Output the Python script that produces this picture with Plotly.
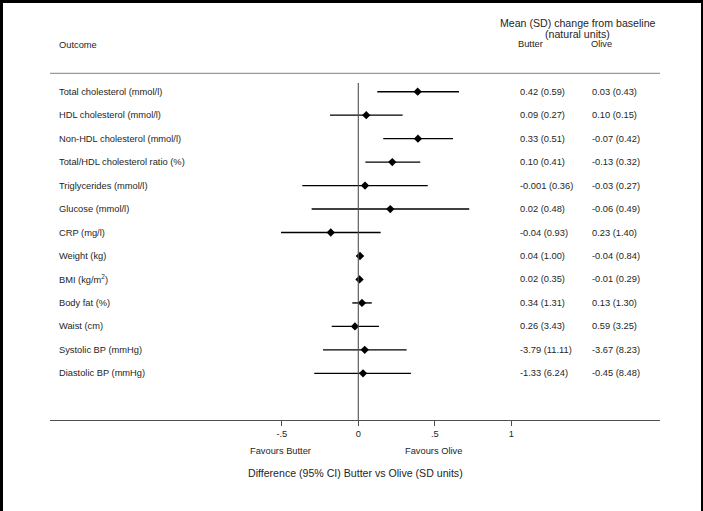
import plotly.graph_objects as go

# ---------------- data ----------------
outcomes = [
    "Total cholesterol (mmol/l)", "HDL cholesterol (mmol/l)", "Non-HDL cholesterol (mmol/l)",
    "Total/HDL cholesterol ratio (%)", "Triglycerides (mmol/l)", "Glucose (mmol/l)",
    "CRP (mg/l)", "Weight (kg)", "BMI (kg/m<sup>2</sup>)", "Body fat (%)", "Waist (cm)",
    "Systolic BP (mmHg)", "Diastolic BP (mmHg)",
]
diff_est = [0.388, 0.052, 0.390, 0.222, 0.044, 0.209, -0.180, 0.011, 0.008, 0.024, -0.022, 0.042, 0.031]
ci_low = [0.124, -0.185, 0.163, 0.046, -0.366, -0.305, -0.505, -0.012, -0.014, -0.039, -0.174, -0.231, -0.288]
ci_high = [0.658, 0.290, 0.619, 0.405, 0.454, 0.725, 0.146, 0.034, 0.030, 0.088, 0.135, 0.316, 0.344]
butter_txt = ["0.42 (0.59)", "0.09 (0.27)", "0.33 (0.51)", "0.10 (0.41)", "-0.001 (0.36)",
              "0.02 (0.48)", "-0.04 (0.93)", "0.04 (1.00)", "0.02 (0.35)", "0.34 (1.31)",
              "0.26 (3.43)", "-3.79 (11.11)", "-1.33 (6.24)"]
olive_txt = ["0.03 (0.43)", "0.10 (0.15)", "-0.07 (0.42)", "-0.13 (0.32)", "-0.03 (0.27)",
             "-0.06 (0.49)", "0.23 (1.40)", "-0.04 (0.84)", "-0.01 (0.29)", "0.13 (1.30)",
             "0.59 (3.25)", "-3.67 (8.23)", "-0.45 (8.48)"]
tick_vals = [-0.5, 0, 0.5, 1]
tick_text = ["-.5", "0", ".5", "1"]

# ---------------- layout helpers ----------------
W, H = 703, 511
FONT = "Liberation Sans, Arial, sans-serif"
TXT = "#1e1e1e"
rows = list(range(len(outcomes)))


def px(x):
    return x / W


def py(y):
    return 1 - y / H


fig = go.Figure()

# CI lines
for i in rows:
    fig.add_trace(go.Scatter(
        x=[ci_low[i], ci_high[i]], y=[i, i], mode="lines",
        line=dict(color="black", width=1.4), hoverinfo="skip", showlegend=False))

# point estimates
fig.add_trace(go.Scatter(
    x=diff_est, y=rows, mode="markers",
    marker=dict(symbol="diamond", size=6.4, color="black", line=dict(width=0)),
    showlegend=False))

ann = []
for i in rows:
    ann.append(dict(x=px(57), xref="paper", y=i, yref="y", text=outcomes[i],
                    xanchor="left", yanchor="middle", showarrow=False,
                    font=dict(family=FONT, size=9.3, color=TXT)))
    ann.append(dict(x=px(518), xref="paper", y=i, yref="y", text=butter_txt[i],
                    xanchor="left", yanchor="middle", showarrow=False,
                    font=dict(family=FONT, size=9.3, color=TXT)))
    ann.append(dict(x=px(590), xref="paper", y=i, yref="y", text=olive_txt[i],
                    xanchor="left", yanchor="middle", showarrow=False,
                    font=dict(family=FONT, size=9.3, color=TXT)))

headers = [
    ("Mean (SD) change from baseline", 577.5, 22.7, 10.6, "center"),
    ("(natural units)", 577, 33.5, 10.6, "center"),
    ("Butter", 530, 44.5, 9.3, "center"),
    ("Olive", 601, 44.5, 9.3, "center"),
    ("Outcome", 57, 45, 9.3, "left"),
    ("Favours Butter", 280, 450.7, 9.3, "center"),
    ("Favours Olive", 433.5, 450.7, 9.3, "center"),
    ("Difference (95% CI) Butter vs Olive (SD units)", 355, 472.7, 10.6, "center"),
]
for t, x, y, s, xa in headers:
    ann.append(dict(x=px(x), xref="paper", y=py(y), yref="paper", text=t,
                    xanchor=xa, yanchor="middle", showarrow=False,
                    font=dict(family=FONT, size=s, color=TXT)))

shapes = [
    # separator under header
    dict(type="line", xref="paper", yref="paper", x0=px(50), x1=px(660), y0=py(73.3), y1=py(73.3),
         line=dict(color="#9a9a9a", width=1.2)),
    # null line
    dict(type="line", xref="x", yref="paper", x0=0, x1=0, y0=py(83), y1=py(420),
         line=dict(color="#505050", width=1.1)),
    # frame edges
    dict(type="rect", xref="paper", yref="paper", x0=0, x1=px(3), y0=0, y1=1,
         fillcolor="black", line=dict(width=0)),
    dict(type="rect", xref="paper", yref="paper", x0=0, x1=1, y0=py(3), y1=1,
         fillcolor="black", line=dict(width=0)),
    dict(type="rect", xref="paper", yref="paper", x0=px(701), x1=1, y0=0, y1=1,
         fillcolor="black", line=dict(width=0)),
]

scale = 153.0  # px per unit
x0px = 358.3
xd0, xd1 = 50, 660
row0, rowstep = 91.7, 23.47

fig.update_layout(
    width=W, height=H, margin=dict(l=0, r=0, t=0, b=0),
    paper_bgcolor="white", plot_bgcolor="white",
    annotations=ann, shapes=shapes,
    xaxis=dict(
        domain=[px(xd0), px(xd1)],
        range=[(xd0 - x0px) / scale, (xd1 - x0px) / scale],
        anchor="free", position=py(420),
        showline=True, linecolor="#505050", linewidth=1.4,
        ticks="outside", ticklen=5, tickwidth=1.2, tickcolor="#505050",
        tickvals=tick_vals, ticktext=tick_text,
        tickfont=dict(family=FONT, size=9.3, color=TXT),
        showgrid=False, zeroline=False, fixedrange=True,
    ),
    yaxis=dict(
        domain=[0, 1],
        range=[(H - row0) / rowstep, (0 - row0) / rowstep],
        visible=False, showgrid=False, zeroline=False, fixedrange=True,
    ),
)

fig.write_html(
    "out.html",
    config={"displayModeBar": False},
    post_script="document.body.style.margin='0';document.body.style.overflow='hidden';",
)
